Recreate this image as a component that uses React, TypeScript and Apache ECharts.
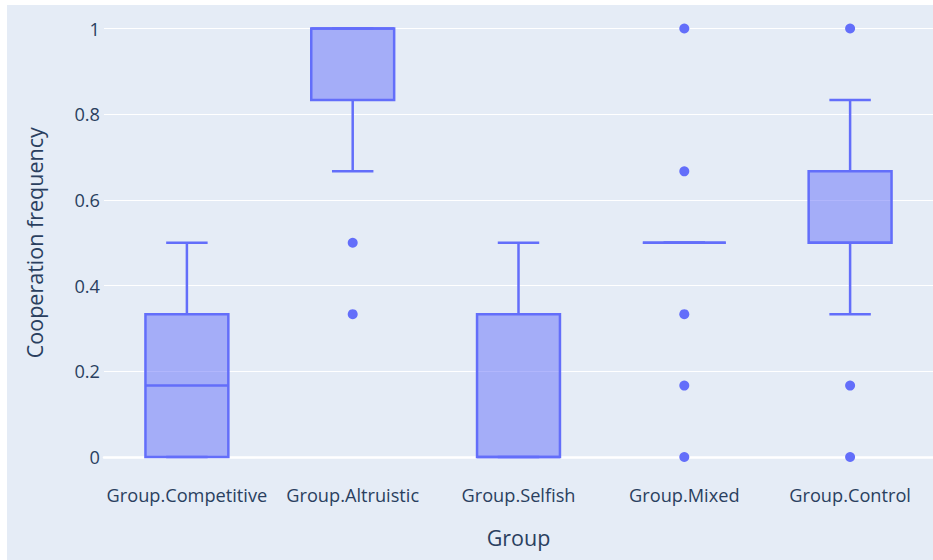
import React, { useEffect, useRef } from "react";
import * as echarts from "echarts";

const categories = ["Group.Competitive", "Group.Altruistic", "Group.Selfish", "Group.Mixed", "Group.Control"];
const lowerWhisker = [0, 0.6667, 0, 0.5, 0.3333];
const q1 = [0, 0.8333, 0, 0.5, 0.5];
const median = [0.1667, 1, 0, 0.5, 0.5];
const q3 = [0.3333, 1, 0.3333, 0.5, 0.6667];
const upperWhisker = [0.5, 1, 0.5, 0.5, 0.8333];
const outliers: number[][] = [[], [0.5, 0.3333], [], [1, 0.6667, 0.3333, 0.1667, 0], [1, 0.1667, 0]];
const yTicks = { min: 0, max: 1, interval: 0.2 };

const BLUE = "#636efa";
const FILL = "rgba(99,110,250,0.5)";
const TEXT = "#2a3f5f";
const FONT = "Open Sans";

export default function App() {
  const ref = useRef<HTMLDivElement>(null);
  useEffect(() => {
    if (!ref.current) return;
    const chart = echarts.init(ref.current, undefined, { renderer: "svg" });
    const boxData = categories.map((_, i) => [i, lowerWhisker[i], q1[i], median[i], q3[i], upperWhisker[i]]);
    const outlierData: number[][] = [];
    outliers.forEach((arr, i) => arr.forEach((v) => outlierData.push([i, v])));

    const renderItem = (params: any, api: any) => {
      const idx = api.value(0);
      const band = api.size([1, 0])[0];
      const boxW = band * 0.5;
      const capW = boxW * 0.5;
      const pLo = api.coord([idx, api.value(1)]);
      const pQ1 = api.coord([idx, api.value(2)]);
      const pMed = api.coord([idx, api.value(3)]);
      const pQ3 = api.coord([idx, api.value(4)]);
      const pHi = api.coord([idx, api.value(5)]);
      const cx = pQ1[0];
      const lineStyle = { stroke: BLUE, lineWidth: 2.5, fill: null };
      return {
        type: "group",
        children: [
          { type: "line", shape: { x1: cx, y1: pQ3[1], x2: cx, y2: pHi[1] }, style: lineStyle },
          { type: "line", shape: { x1: cx, y1: pQ1[1], x2: cx, y2: pLo[1] }, style: lineStyle },
          { type: "line", shape: { x1: cx - capW / 2, y1: pHi[1], x2: cx + capW / 2, y2: pHi[1] }, style: lineStyle },
          { type: "line", shape: { x1: cx - capW / 2, y1: pLo[1], x2: cx + capW / 2, y2: pLo[1] }, style: lineStyle },
          {
            type: "rect",
            shape: { x: cx - boxW / 2, y: pQ3[1], width: boxW, height: pQ1[1] - pQ3[1] },
            style: { fill: FILL, stroke: BLUE, lineWidth: 2.5 },
          },
          { type: "line", shape: { x1: cx - boxW / 2, y1: pMed[1], x2: cx + boxW / 2, y2: pMed[1] }, style: lineStyle },
        ],
      };
    };

    chart.setOption({
      animation: false,
      backgroundColor: "#E5ECF6",
      grid: { left: 97, right: 0, top: 23.5, height: 428.5 },
      xAxis: {
        type: "category",
        data: categories,
        boundaryGap: true,
        name: "Group",
        nameLocation: "middle",
        nameGap: 69,
        nameTextStyle: { color: TEXT, fontFamily: FONT, fontSize: 21.5 },
        axisLine: { show: true, lineStyle: { color: "#ffffff", width: 2.5 } },
        axisTick: { show: false },
        splitLine: { show: false },
        axisLabel: { color: TEXT, fontFamily: FONT, fontSize: 18.2, margin: 28.5, interval: 0 },
      },
      yAxis: {
        type: "value",
        min: yTicks.min,
        max: yTicks.max,
        interval: yTicks.interval,
        name: "Cooperation frequency",
        nameLocation: "middle",
        nameGap: 59,
        nameTextStyle: { color: TEXT, fontFamily: FONT, fontSize: 21.5 },
        axisLine: { show: false },
        axisTick: { show: false },
        splitLine: { show: true, lineStyle: { color: "#ffffff", width: 1.2 } },
        axisLabel: { color: TEXT, fontFamily: FONT, fontSize: 18.2, margin: 4 },
      },
      series: [
        { type: "custom", data: boxData, renderItem, clip: false, z: 2 },
        {
          type: "scatter",
          data: outlierData,
          symbol: "circle",
          symbolSize: 10,
          itemStyle: { color: BLUE, opacity: 1 },
          clip: false,
          z: 3,
        },
      ],
    });
    return () => chart.dispose();
  }, []);
  return (
    <div
      ref={ref}
      style={{ position: "absolute", left: 7, top: 5, width: 926, height: 555 }}
    />
  );
}
